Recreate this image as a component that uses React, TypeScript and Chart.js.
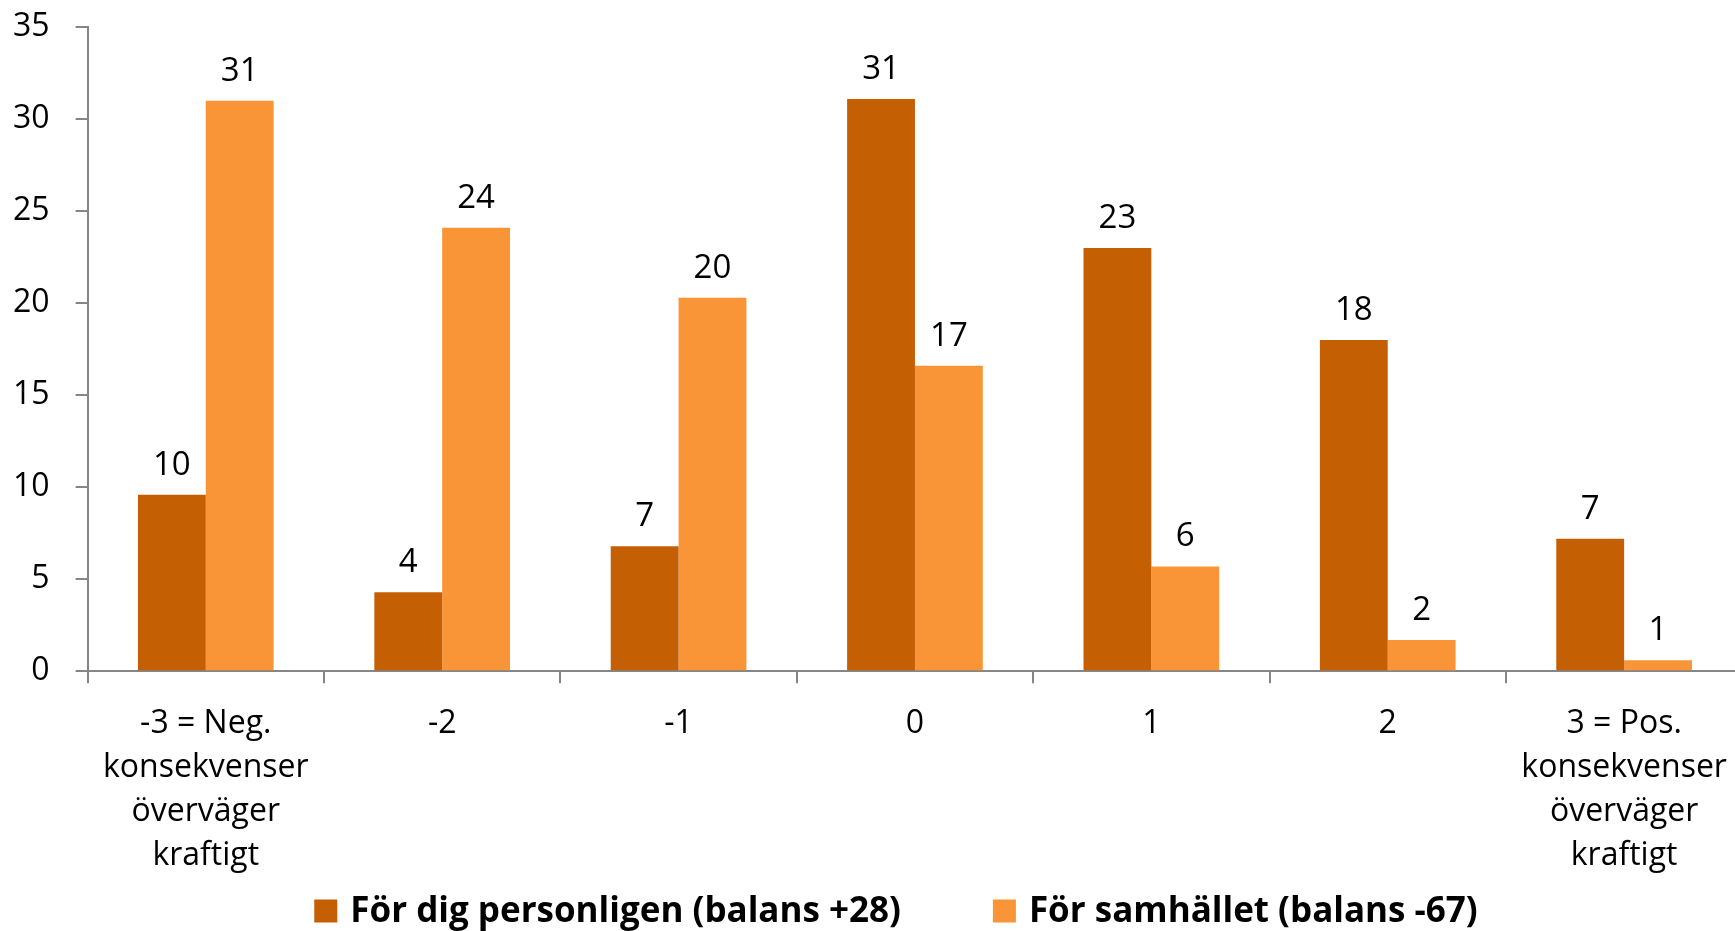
import React, { useEffect, useRef } from 'react';
import { Chart, registerables } from 'chart.js';

Chart.register(...registerables);

const categories: (string | string[])[] = [
  ['-3 = Neg.', 'konsekvenser', 'överväger', 'kraftigt'],
  '-2',
  '-1',
  '0',
  '1',
  '2',
  ['3 = Pos.', 'konsekvenser', 'överväger', 'kraftigt'],
];

const seriesNames = ['För dig personligen (balans +28)', 'För samhället (balans -67)'];

const personal = [9.6, 4.3, 6.8, 31.1, 23.0, 18.0, 7.2];
const society = [31.0, 24.1, 20.3, 16.6, 5.7, 1.7, 0.6];

const yMin = 0;
const yMax = 35;
const yStep = 5;

const DARK = '#C45F04';
const LIGHT = '#F99537';
const AXIS = '#868686';
const FONT = '"Open Sans", "Noto Sans", sans-serif';

const SHIFT = 18;
const CANVAS_W = 1745;
const CANVAS_H = 931 + SHIFT;

const valueLabels = {
  id: 'valueLabels',
  afterDatasetsDraw(chart: any) {
    const ctx = chart.ctx;
    ctx.save();
    ctx.font = `33px ${FONT}`;
    ctx.fillStyle = '#000';
    ctx.textAlign = 'center';
    ctx.textBaseline = 'alphabetic';
    chart.data.datasets.forEach((ds: any, i: number) => {
      const meta = chart.getDatasetMeta(i);
      meta.data.forEach((bar: any, j: number) => {
        const v = ds.data[j] as number;
        ctx.fillText(String(Math.round(v)), bar.x, bar.y - 20);
      });
    });
    ctx.restore();
  },
};

const bottomLegend = {
  id: 'bottomLegend',
  afterDraw(chart: any) {
    const ctx = chart.ctx;
    ctx.save();
    ctx.font = `bold 35px ${FONT}`;
    ctx.textBaseline = 'middle';
    ctx.textAlign = 'left';
    const box = 23;
    const gapText = 13;
    const gapItem = 92;
    const centerX = 896;
    const y = 911 + SHIFT;
    const ds = chart.data.datasets;
    const widths = ds.map((d: any) => ctx.measureText(d.label).width);
    const total =
      widths.reduce((a: number, w: number) => a + box + gapText + w, 0) + gapItem * (widths.length - 1);
    let x = centerX - total / 2;
    ds.forEach((d: any, i: number) => {
      ctx.fillStyle = d.backgroundColor;
      ctx.fillRect(x, y - box / 2, box, box);
      ctx.fillStyle = '#000';
      ctx.fillText(d.label, x + box + gapText, y + 1);
      x += box + gapText + widths[i] + gapItem;
    });
    ctx.restore();
  },
};

export default function App() {
  const ref = useRef<HTMLCanvasElement | null>(null);

  useEffect(() => {
    if (!ref.current) return;
    const chart = new Chart(ref.current, {
      type: 'bar',
      data: {
        labels: categories,
        datasets: [
          {
            label: seriesNames[0],
            data: personal,
            backgroundColor: DARK,
            borderWidth: 0,
            categoryPercentage: 0.574,
            barPercentage: 1,
          },
          {
            label: seriesNames[1],
            data: society,
            backgroundColor: LIGHT,
            borderWidth: 0,
            categoryPercentage: 0.574,
            barPercentage: 1,
          },
        ],
      },
      options: {
        responsive: false,
        animation: false,
        devicePixelRatio: 1,
        layout: { padding: { left: -13, top: 0, right: 1, bottom: 35 } },
        plugins: {
          legend: { display: false },
          tooltip: { enabled: false },
          title: { display: false },
        },
        scales: {
          x: {
            grid: {
              drawOnChartArea: false,
              drawTicks: true,
              tickLength: 12,
              color: AXIS,
              lineWidth: 2,
              offset: true,
            },
            border: { color: AXIS, width: 2 },
            ticks: {
              color: '#000',
              font: { family: FONT, size: 32, lineHeight: 1.38 },
              padding: 18,
              maxRotation: 0,
              autoSkip: false,
            },
          },
          y: {
            min: yMin,
            max: yMax,
            grid: {
              drawOnChartArea: false,
              drawTicks: true,
              tickLength: 12,
              color: AXIS,
              lineWidth: 2,
            },
            border: { color: AXIS, width: 2 },
            ticks: {
              stepSize: yStep,
              color: '#000',
              font: { family: FONT, size: 32 },
              padding: 26,
            },
          },
        },
      },
      plugins: [valueLabels, bottomLegend],
    });
    return () => chart.destroy();
  }, []);

  return (
    <div
      style={{
        position: 'fixed',
        left: 0,
        top: 0,
        width: 1735,
        height: 931,
        overflow: 'hidden',
        background: '#fff',
      }}
    >
      <canvas
        ref={ref}
        width={CANVAS_W}
        height={CANVAS_H}
        style={{ display: 'block', width: CANVAS_W, height: CANVAS_H, marginTop: -SHIFT }}
      />
    </div>
  );
}
